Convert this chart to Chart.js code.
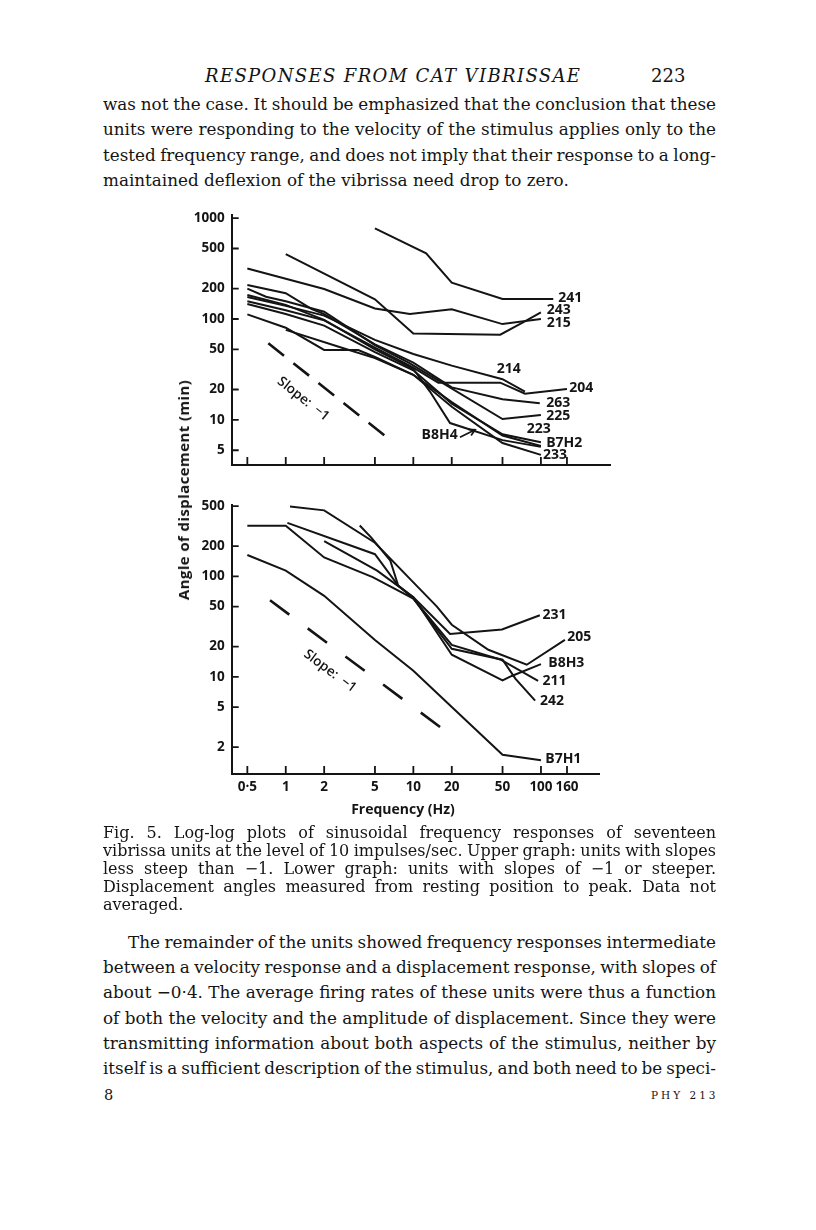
<!DOCTYPE html>
<html>
<head>
<meta charset="utf-8">
<script src="https://cdn.jsdelivr.net/npm/chart.js@4.4.1/dist/chart.umd.min.js"></script>
<style>
  body { margin: 0; background: #fff; }
  #page { position: relative; width: 816px; height: 1230px; overflow: hidden; color: #141414; font-family: "DejaVu Serif", serif; }
  .ln { position: absolute; white-space: nowrap; display: inline-block; }
  canvas { position: absolute; }
  .ax { position: absolute; font-family: "Open Sans", sans-serif; font-weight: 700; color: #141414; white-space: nowrap; }
</style>
</head>
<body>
<div id="page">
  <canvas id="upper" width="470" height="280" style="left:160px;top:200px"></canvas>
  <canvas id="lower" width="460" height="340" style="left:160px;top:490px"></canvas>
  <div class="ax" style="left:183px;top:490px;font-size:15px;letter-spacing:0.4px;transform:translate(-50%,-50%) rotate(-90deg)">Angle of displacement (min)</div>
  <div class="ax" style="left:403px;top:808px;font-size:14px;transform:translate(-50%,-50%)">Frequency (Hz)</div>
</div>
<script>
// frequency (Hz) / angle (min)

// upper graph
const fU241 = [5, 12.6, 20, 50, 125];
const aU241 = [790, 447, 229, 158, 158];
const fU243 = [1, 5, 10, 48, 73, 100];
const aU243 = [440, 157, 72, 70, 93, 116];
const fU215 = [0.5, 2, 5, 9.4, 20, 50, 100];
const aU215 = [317, 198, 127, 112, 125, 89, 100];
const fU214 = [0.5, 1, 2, 5, 10, 20, 50, 75];
const aU214 = [165, 135, 108, 62, 45, 34.5, 25.3, 19.1];
const fU204 = [0.5, 1, 2, 5, 10, 15.7, 48, 75, 160];
const aU204 = [150, 122, 97, 52, 33, 23.4, 23.4, 18.2, 20.2];
const fU263 = [0.5, 1, 1.6, 2, 5, 10, 20, 50, 98];
const aU263 = [217, 180, 125, 112, 56, 37, 21, 16, 14.6];
const fU225 = [0.5, 0.7, 1, 2, 5, 9.4, 50, 100];
const aU225 = [200, 166, 150, 118, 55, 36.4, 10.2, 11.2];
const fU223 = [0.5, 1, 2, 5, 10, 20, 50, 100];
const aU223 = [141, 112, 86, 47, 31, 14.5, 7.2, 6.0];
const fB8H4 = [0.5, 1, 2, 5, 10, 13.5, 19.4, 50, 100];
const aB8H4 = [173, 138, 98, 50, 32, 19.1, 9.3, 6.3, 5.4];
const fB7H2 = [1, 2.6, 5, 10, 20, 50, 100];
const aB7H2 = [78, 53, 41, 28, 15, 7.0, 5.5];
const fU233 = [0.5, 1, 2, 3.7, 5, 10, 20, 50, 100];
const aU233 = [111, 82, 49.3, 49.3, 42, 28, 13.5, 5.9, 4.5];
const fSlopeU = [0.73, 6.18];
const aSlopeU = [57.4, 6.74];

// lower graph
const fL205 = [1.08, 2, 5, 10, 15.3, 20, 38.7, 77.4, 154];
const aL205 = [495, 453, 216, 87, 50, 33, 18.6, 13.2, 23.3];
const fL231 = [1.03, 5, 7.6, 10, 19.4, 49.5, 98];
const aL231 = [340, 166, 81, 62, 26.7, 29.6, 41];
const fL211 = [0.5, 1, 2, 4.8, 10, 20, 48, 95];
const aL211 = [319, 319, 154, 98, 60, 20.8, 14.9, 9.1];
const fB8H3 = [2, 5.2, 10, 20, 50, 59, 100];
const aB8H3 = [224, 114, 62, 16.6, 9.2, 10.2, 13.4];
const fL242 = [3.8, 4.7, 6.6, 7.6, 10, 20, 50, 63, 90];
const aL242 = [320, 241, 143, 81, 60, 19, 14.8, 9.6, 5.8];
const fB7H1 = [0.5, 1, 2, 5, 10, 20, 50, 100];
const aB7H1 = [163, 114, 64, 23.3, 11.5, 5.0, 1.68, 1.48];
const fSlopeL = [0.753, 18.4];
const aSlopeL = [57.7, 2.81];

// axes
const xTicks = [0.5, 1, 2, 5, 10, 20, 50, 100, 160];
const xTickText = ['0·5', '1', '2', '5', '10', '20', '50', '100', '160'];
const yTicksU = [5, 10, 20, 50, 100, 200, 500, 1000];
const yTicksL = [2, 5, 10, 20, 50, 100, 200, 500];

// unit labels (anchor at left-middle of text)
const namesU = ['241', '243', '215', '214', '204', '263', '225', '223', 'B7H2', '233', 'B8H4'];
const nameFU = [137, 111, 111, 45, 167, 110, 110, 77.4, 110, 104, 11.6];
const nameAU = [162.5, 122.7, 90.7, 31.8, 20.6, 14.8, 10.95, 8.09, 5.96, 4.47, 7.1];
const namesL = ['231', '205', 'B8H3', '211', '242', 'B7H1'];
const nameFL = [103, 161, 114, 103, 98.4, 108];
const nameAL = [41.1, 24.7, 13.7, 9.08, 5.77, 1.51];
const arrowF = [23.2, 30.5];
const arrowA = [6.74, 8.0];
const slopeTextFU = 1.37, slopeTextAU = 16.1;
const slopeTextFL = 2.22, slopeTextAL = 11.4;

const INK = '#141414';
const pts = (f, a) => f.map((v, i) => ({ x: v, y: a[i] }));
const solid = (f, a) => ({ data: pts(f, a), borderColor: INK, borderWidth: 2, pointRadius: 0, tension: 0, fill: false });
const dashed = (f, a, dash) => ({ ...solid(f, a), borderWidth: 2.6, borderDash: dash });

const pageMarks = {
  id: 'pageMarks',
  afterDatasetsDraw(chart, args, o) {
    const { ctx, chartArea: area, scales: { x, y } } = chart;
    ctx.save();
    ctx.strokeStyle = INK;
    ctx.lineWidth = 1.8;
    ctx.beginPath();
    xTicks.forEach(v => {
      const px = x.getPixelForValue(v);
      ctx.moveTo(px, area.bottom);
      ctx.lineTo(px, area.bottom - 8);
    });
    o.yTicks.forEach(v => {
      const py = y.getPixelForValue(v);
      ctx.moveTo(area.left, py);
      ctx.lineTo(area.left + 7, py);
    });
    ctx.stroke();

    ctx.fillStyle = INK;
    ctx.font = '700 14px "Open Sans"';
    ctx.textAlign = 'left';
    ctx.textBaseline = 'middle';
    o.names.forEach((t, i) => ctx.fillText(t, x.getPixelForValue(o.nameF[i]), y.getPixelForValue(o.nameA[i])));

    if (o.arrow) {
      const x1 = x.getPixelForValue(arrowF[0]), y1 = y.getPixelForValue(arrowA[0]);
      const x2 = x.getPixelForValue(arrowF[1]), y2 = y.getPixelForValue(arrowA[1]);
      const ang = Math.atan2(y2 - y1, x2 - x1);
      ctx.lineWidth = 1.7;
      ctx.beginPath();
      ctx.moveTo(x1, y1); ctx.lineTo(x2, y2);
      ctx.moveTo(x2 - 7 * Math.cos(ang - 0.5), y2 - 7 * Math.sin(ang - 0.5));
      ctx.lineTo(x2, y2);
      ctx.lineTo(x2 - 7 * Math.cos(ang + 0.5), y2 - 7 * Math.sin(ang + 0.5));
      ctx.stroke();
    }

    // slope caption along the dashed guide
    const sx1 = x.getPixelForValue(o.slopeF[0]), sy1 = y.getPixelForValue(o.slopeA[0]);
    const sx2 = x.getPixelForValue(o.slopeF[1]), sy2 = y.getPixelForValue(o.slopeA[1]);
    ctx.translate(x.getPixelForValue(o.slopeTextF), y.getPixelForValue(o.slopeTextA));
    ctx.rotate(Math.atan2(sy2 - sy1, sx2 - sx1));
    ctx.textAlign = 'center';
    ctx.font = '600 13.5px "Open Sans"';
    ctx.fillText('Slope:  \u22121', 0, 0);
    ctx.restore();
  }
};

function makeChart(id, datasets, yMin, yMax, xMax, yTicks, showX, pad, xHeight, marks) {
  const tickFont = { family: 'Open Sans', weight: '700', size: 13.5 };
  return new Chart(document.getElementById(id), {
    type: 'line',
    data: { datasets },
    options: {
      responsive: false,
      animation: false,
      devicePixelRatio: 1,
      layout: { padding: pad },
      plugins: { legend: { display: false }, tooltip: { enabled: false }, pageMarks: marks },
      scales: {
        x: {
          type: 'logarithmic', min: 0.377, max: xMax,
          grid: { display: false, drawTicks: false },
          border: { display: true, color: INK, width: 2 },
          afterBuildTicks: s => { s.ticks = xTicks.map(v => ({ value: v })); },
          afterFit: s => { s.height = xHeight; },
          ticks: {
            display: showX, autoSkip: false, maxRotation: 0, padding: 5, color: INK,
            font: tickFont,
            callback: v => xTickText[xTicks.indexOf(v)]
          }
        },
        y: {
          type: 'logarithmic', min: yMin, max: yMax,
          grid: { display: false, drawTicks: false },
          border: { display: true, color: INK, width: 2 },
          afterBuildTicks: s => { s.ticks = yTicks.map(v => ({ value: v })); },
          afterFit: s => { s.width = 60; },
          ticks: {
            autoSkip: false, padding: 7, color: INK,
            font: tickFont,
            callback: v => String(v)
          }
        }
      }
    },
    plugins: [pageMarks]
  });
}

makeChart('upper', [
  solid(fU241, aU241), solid(fU243, aU243), solid(fU215, aU215), solid(fU214, aU214),
  solid(fU204, aU204), solid(fU263, aU263), solid(fU225, aU225), solid(fU223, aU223),
  solid(fB8H4, aB8H4), solid(fB7H2, aB7H2), solid(fU233, aU233),
  dashed(fSlopeU, aSlopeU, [20, 12])
], 3.58, 1071, 348, yTicksU, false, { left: 11.7, top: 15, right: 20, bottom: 0 }, 15, {
  yTicks: yTicksU, names: namesU, nameF: nameFU, nameA: nameAU, arrow: true,
  slopeF: fSlopeU, slopeA: aSlopeU, slopeTextF: slopeTextFU, slopeTextA: slopeTextAU
});

makeChart('lower', [
  solid(fL205, aL205), solid(fL231, aL231), solid(fL211, aL211),
  solid(fB8H3, aB8H3), solid(fL242, aL242), solid(fB7H1, aB7H1),
  dashed(fSlopeL, aSlopeL, [24, 23])
], 1.08, 511, 285, yTicksL, true, { left: 11.7, top: 12, right: 21, bottom: 0 }, 56, {
  yTicks: yTicksL, names: namesL, nameF: nameFL, nameA: nameAL, arrow: false,
  slopeF: fSlopeL, slopeA: aSlopeL, slopeTextF: slopeTextFL, slopeTextA: slopeTextAL
});

// page text
const page = document.getElementById('page');
function line(text, left, cy, size, width, style) {
  const el = document.createElement('span');
  el.className = 'ln';
  el.textContent = text;
  el.style.fontSize = size + 'px';
  el.style.lineHeight = Math.round(size * 1.3) + 'px';
  el.style.left = left + 'px';
  el.style.top = (cy - Math.round(size * 1.3) / 2) + 'px';
  Object.assign(el.style, style || {});
  page.appendChild(el);
  if (width) {
    const w = el.getBoundingClientRect().width;
    const gaps = (text.match(/ /g) || []).length;
    if (gaps) el.style.wordSpacing = ((width - w) / gaps) + 'px';
  }
  return el;
}

const head = line('RESPONSES FROM CAT VIBRISSAE', 205, 75, 18, 0, { fontStyle: 'italic' });
const hw = head.getBoundingClientRect().width;
head.style.letterSpacing = ((375 - hw) / 27) + 'px';
line('223', 651, 75, 18, 0);

const TXT = 16.8;
const para1 = [
  'was not the case. It should be emphasized that the conclusion that these',
  'units were responding to the velocity of the stimulus applies only to the',
  'tested frequency range, and does not imply that their response to a long-',
  'maintained deflexion of the vibrissa need drop to zero.'
];
para1.forEach((t, i) => line(t, 103, 104 + i * 25.4, TXT, i < 3 ? 613 : 0));

const cap = [
  'Fig. 5. Log-log plots of sinusoidal frequency responses of seventeen',
  'vibrissa units at the level of 10 impulses/sec. Upper graph: units with slopes',
  'less steep than \u22121. Lower graph: units with slopes of \u22121 or steeper.',
  'Displacement angles measured from resting position to peak. Data not',
  'averaged.'
];
cap.forEach((t, i) => line(t, 103, 832 + i * 18, 16, i < 4 ? 613 : 0));

const para2 = [
  'The remainder of the units showed frequency responses intermediate',
  'between a velocity response and a displacement response, with slopes of',
  'about \u22120\u00b74. The average firing rates of these units were thus a function',
  'of both the velocity and the amplitude of displacement. Since they were',
  'transmitting information about both aspects of the stimulus, neither by',
  'itself is a sufficient description of the stimulus, and both need to be speci-'
];
para2.forEach((t, i) => line(t, i === 0 ? 128 : 103, 942 + i * 25.2, TXT, i === 0 ? 588 : 613));

line('8', 104, 1095, 14.5, 0);
line('PHY 213', 651, 1095, 10.5, 0, { letterSpacing: '3px' });
</script>
</body>
</html>
